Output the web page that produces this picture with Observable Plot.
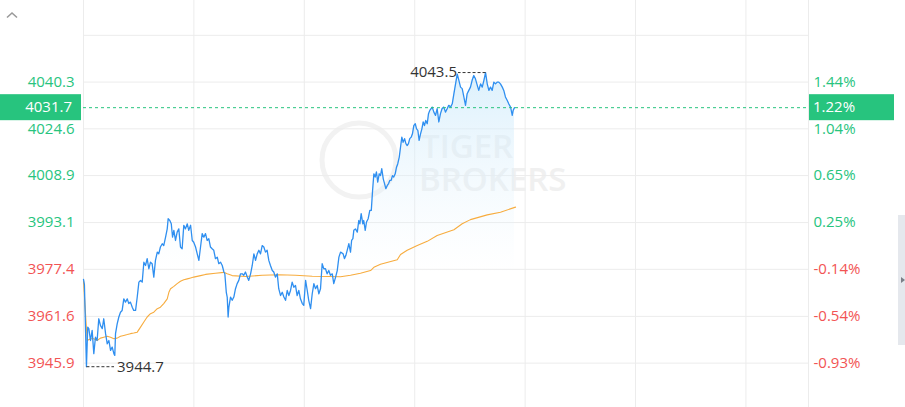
<!DOCTYPE html>
<html><head><meta charset="utf-8">
<script src="https://cdn.jsdelivr.net/npm/d3@7"></script>
<script src="https://cdn.jsdelivr.net/npm/@observablehq/plot@0.6"></script>
<style>
html,body{margin:0;padding:0;background:#fff;width:905px;height:407px;overflow:hidden;font-family:"Open Sans",sans-serif}
#wrap{position:relative;width:905px;height:407px}
#chart svg{display:block}
.chev{position:absolute;left:6px;top:11px}
.scroll{position:absolute;left:898px;top:215px;width:7px;height:130px;background:#e5e8ed}
.scroll:after{content:"";position:absolute;left:3px;top:62px;border-left:4px solid #7a7f87;border-top:3.5px solid transparent;border-bottom:3.5px solid transparent}
</style></head><body>
<div id="wrap"><div id="chart"></div>
<svg class="chev" width="12" height="8"><polyline points="1,6.5 6,2 11,6.5" fill="none" stroke="#9a9a9a" stroke-width="1.6"/></svg>
<div class="scroll"></div></div>
<script>
// minutes since 09:30 open
const minutes = [0.0,0.5,1.6,2.3,2.9,3.8,4.7,5.6,6.5,7.4,8.3,9.2,10.2,11.0,12.0,12.9,13.8,14.7,15.6,16.5,17.0,17.4,18.3,19.2,20.1,21.0,21.9,22.8,23.8,24.6,25.5,26.5,27.3,28.3,29.2,30.1,31.0,31.9,32.8,33.7,34.6,35.5,36.4,37.3,38.2,39.1,40.1,40.9,41.8,42.8,43.6,44.6,45.5,46.0,46.9,47.7,48.4,49.1,50.0,50.9,51.8,52.7,53.6,54.5,55.4,56.4,57.2,58.2,59.1,59.9,60.9,61.8,62.7,63.6,64.5,65.4,66.3,67.2,68.1,69.0,69.9,70.8,71.7,72.7,73.5,74.5,75.4,76.3,76.8,77.6,78.1,78.6,79.0,79.9,80.8,81.7,82.6,83.5,84.4,85.3,86.3,87.1,88.0,89.0,89.8,90.8,91.7,92.6,93.5,94.4,95.3,96.2,97.1,98.0,98.9,99.8,100.7,101.6,102.6,103.4,104.3,105.3,106.1,107.1,108.0,108.9,109.8,110.7,111.6,112.5,113.4,114.3,115.2,116.1,117.0,117.9,118.9,119.7,120.7,121.6,122.4,123.4,124.3,125.2,126.1,127.0,127.9,128.8,129.7,130.6,131.5,132.4,133.3,134.2,135.2,136.0,137.0,137.9,138.8,139.7,141.1,141.8,142.6,143.3,144.2,145.1,145.7,146.4,146.9,147.8,148.8,149.6,150.2,150.9,151.8,152.3,153.1,153.8,154.7,155.6,156.4,157.1,157.8,158.5,159.2,159.9,160.7,161.4,162.1,162.9,163.6,164.3,165.1,165.8,166.5,167.2,167.9,168.6,169.4,170.1,170.8,171.6,172.3,173.0,173.7,174.5,175.2,175.9,176.6,177.3,178.1,178.8,179.5,180.3,181.0,181.7,182.4,183.2,183.9,184.6,185.3,186.0,186.8,187.5,188.2,189.5,190.4,191.3,192.2,193.1,194.0,194.9,195.8,196.7,197.7,198.5,199.5,200.4,201.3,202.2,203.1,204.0,204.9,205.8,206.7,207.6,208.5,209.4,210.3,211.2,212.1,213.0,214.0,214.8,215.8,216.7,217.6,218.5,219.4,220.3,221.2,222.1,223.0,223.9,224.8,225.7,226.6,227.6,228.4,229.3,230.3,231.1,232.1,233.0,233.5,234.2];
const prices = [3974.0,3972.3,3944.7,3958.0,3957.5,3953.5,3956.9,3949.1,3954.6,3953.5,3960.8,3958.6,3957.5,3960.8,3955.8,3952.4,3953.5,3950.2,3951.3,3949.1,3948.5,3955.8,3959.1,3961.4,3963.0,3963.6,3967.5,3966.4,3967.5,3965.9,3966.4,3964.7,3963.6,3963.6,3968.1,3973.1,3973.7,3973.1,3979.8,3978.7,3981.0,3977.6,3979.8,3979.3,3974.8,3980.4,3983.2,3982.6,3984.9,3986.0,3985.4,3988.2,3991.0,3994.4,3993.8,3992.7,3988.2,3990.5,3987.1,3989.9,3991.0,3984.9,3984.3,3992.2,3991.0,3992.7,3990.5,3992.2,3987.1,3986.5,3984.9,3982.6,3980.4,3984.9,3989.4,3988.2,3989.4,3987.1,3987.7,3984.9,3984.3,3983.8,3981.0,3981.5,3979.3,3979.8,3978.7,3976.5,3975.9,3969.7,3968.1,3961.4,3964.7,3968.1,3967.0,3968.1,3970.9,3972.6,3973.7,3975.9,3975.9,3975.4,3976.5,3974.8,3973.7,3975.9,3978.7,3982.6,3980.4,3982.6,3983.8,3982.6,3985.4,3984.9,3983.2,3983.8,3980.4,3978.7,3977.0,3976.5,3974.8,3975.9,3970.9,3968.6,3969.7,3968.1,3967.0,3970.3,3968.6,3970.3,3973.1,3971.4,3972.0,3968.6,3970.3,3967.5,3965.9,3965.3,3973.7,3970.3,3967.0,3964.2,3969.2,3972.6,3970.9,3972.0,3969.2,3970.9,3979.3,3977.6,3977.6,3975.9,3977.0,3975.4,3975.9,3972.6,3974.8,3977.0,3981.5,3983.2,3982.6,3981.0,3982.1,3983.8,3986.0,3983.2,3987.1,3987.7,3990.5,3991.0,3989.9,3993.8,3992.7,3996.1,3992.7,3993.8,3990.5,3993.3,3994.4,3997.2,3997.2,4003.9,4009.5,4008.4,4010.1,4006.7,4009.5,4008.9,4011.2,4007.8,4006.2,4004.5,4005.6,4006.2,4007.3,4007.3,4008.9,4008.4,4009.5,4011.7,4012.9,4015.1,4018.5,4021.8,4020.1,4021.3,4019.6,4019.0,4019.6,4021.3,4021.8,4023.0,4025.7,4026.3,4024.6,4024.1,4020.7,4023.0,4024.6,4026.9,4025.7,4027.4,4026.3,4029.7,4030.8,4031.9,4030.2,4029.1,4031.4,4026.9,4029.7,4031.4,4031.9,4030.2,4031.4,4032.5,4031.9,4033.0,4036.4,4039.7,4043.0,4040.9,4038.6,4038.1,4035.3,4032.5,4036.4,4037.5,4038.6,4040.9,4042.5,4041.4,4039.2,4037.5,4039.7,4038.6,4040.9,4043.5,4039.7,4037.5,4038.6,4037.5,4040.3,4039.7,4040.3,4040.3,4039.7,4038.6,4037.5,4035.3,4034.1,4033.0,4031.9,4029.1,4030.8,4031.7];
// average price line
const avgMinutes = [0,2.0,3.8,5.6,7.4,9.2,11.0,12.9,14.7,16.5,18.3,20.1,21.9,23.8,25.5,27.3,29.2,31.0,32.8,34.6,36.4,38.2,40.1,41.8,43.6,45.5,46.4,47.3,49.1,50.9,52.7,54.5,56.4,58.2,59.9,63.6,66.3,71.7,76.3,78.1,80.8,88.0,97.1,106.1,115.2,124.3,133.3,139.7,145.1,150.5,156.0,157.8,161.4,170.5,172.3,175.9,181.4,186.8,192.2,201.3,205.8,210.3,219.4,226.6,234.8];
const avgPrices = [3973.5,3953.5,3954.1,3954.1,3953.5,3954.3,3954.6,3954.9,3954.6,3954.1,3954.3,3954.9,3955.2,3955.5,3955.8,3956.0,3956.3,3958.0,3959.7,3961.4,3962.5,3963.0,3964.2,3964.7,3965.9,3967.5,3969.7,3970.9,3971.7,3972.6,3973.4,3973.9,3974.2,3974.5,3974.8,3975.3,3975.7,3976.1,3976.4,3975.9,3975.3,3975.0,3975.4,3975.6,3975.4,3975.1,3975.0,3974.9,3975.4,3976.1,3977.0,3978.1,3979.1,3980.6,3982.4,3983.8,3985.4,3986.8,3988.8,3990.7,3992.7,3994.1,3995.7,3996.6,3998.3];
const prevClose = 3983.1;
const lastPrice = 4031.7;
const lastPct = "1.22%";
const priceTicks = [3945.9, 3961.6, 3977.4, 3993.1, 4008.9, 4024.6, 4040.3];
const pctTicks = ["-0.93%", "-0.54%", "-0.14%", "0.25%", "0.65%", "1.04%", "1.44%"];
const topGrid = 4056.0;
const hourTicks = [0, 60, 120, 180, 240, 300, 360];
const sessionEnd = 394;
const yDomain = [3931.0, 4067.7];
const labelGap = 15; // minutes of dashed leader for high/low labels

const green = "#27c47e", red = "#f25454", blue = "#2f8ff0", orange = "#f7ac3e", grid = "#ececec";
const series = minutes.map((m, i) => ({m, p: prices[i]}));
const avg = avgMinutes.map((m, i) => ({m, p: avgPrices[i]}));
const ticks = priceTicks.map((v, i) => ({v, pct: pctTicks[i], c: v >= prevClose ? green : red}));
const iMax = d3.maxIndex(prices), iMin = d3.minIndex(prices);
const hi = {m: minutes[iMax], p: prices[iMax]};
const lo = {m: minutes[iMin], p: prices[iMin]};

const chart = Plot.plot({
  width: 905, height: 407,
  marginLeft: 83, marginRight: 97, marginTop: 0, marginBottom: 0,
  x: {domain: [0, sessionEnd], axis: null},
  y: {domain: yDomain, axis: null},
  color: {type: "identity"},
  style: {fontFamily: "'Open Sans', sans-serif", fontSize: "15px", background: "transparent"},
  marks: [
    Plot.ruleY([...priceTicks, topGrid], {stroke: grid}),
    Plot.ruleX([...hourTicks, sessionEnd], {stroke: grid}),
    Plot.areaY(series, {x: "m", y1: yDomain[0], y2: "p", fill: "url(#areaGrad)"}),
    Plot.line(avg, {x: "m", y: "p", stroke: orange, strokeWidth: 1.1}),
    Plot.line(series, {x: "m", y: "p", stroke: blue, strokeWidth: 1.3}),
    Plot.ruleY([lastPrice], {stroke: green, strokeDasharray: "3,3", strokeWidth: 1}),
    Plot.text(ticks, {y: "v", text: d => d.v.toFixed(1), frameAnchor: "left", dx: -9, textAnchor: "end", fill: "c", fontSize: 15}),
    Plot.text(ticks, {y: "v", text: "pct", frameAnchor: "right", dx: 5, textAnchor: "start", fill: "c", fontSize: 15}),
    Plot.link([lo], {x1: "m", x2: d => d.m + labelGap, y1: "p", y2: "p", stroke: "#333", strokeDasharray: "3,2", strokeWidth: 1}),
    Plot.text([lo], {x: d => d.m + labelGap, y: "p", text: d => d.p.toFixed(1), dx: 3, textAnchor: "start", fill: "#333", fontSize: 15}),
    Plot.link([hi], {x1: "m", x2: d => d.m - labelGap, y1: "p", y2: "p", stroke: "#333", strokeDasharray: "3,2", strokeWidth: 1}),
    Plot.text([hi], {x: d => d.m - labelGap, y: "p", text: d => d.p.toFixed(1), dx: -1, textAnchor: "end", fill: "#333", fontSize: 15})
  ]
});
document.getElementById("chart").appendChild(chart);

const svg = d3.select(chart);
// gradient for the area
const defs = svg.insert("defs", ":first-child");
const lg = defs.append("linearGradient").attr("id", "areaGrad").attr("x1", 0).attr("y1", 0).attr("x2", 0).attr("y2", 1);
lg.append("stop").attr("offset", 0).attr("stop-color", "#cdeafb").attr("stop-opacity", 0.7);
lg.append("stop").attr("offset", 0.6).attr("stop-color", "#e8f5fd").attr("stop-opacity", 0);

// watermark behind marks
const wm = svg.insert("g", "g").attr("text-anchor", "start");
wm.append("circle").attr("cx", 359).attr("cy", 160).attr("r", 37).attr("fill", "none").attr("stroke", "#f2f2f2").attr("stroke-width", 5);
wm.append("text").attr("x", 421).attr("y", 158).attr("fill", "#f0f0f0").attr("font-size", 33).attr("font-weight", 600).attr("font-family", "'Open Sans', sans-serif").text("TIGER");
wm.append("text").attr("x", 419).attr("y", 191).attr("fill", "#f0f0f0").attr("font-size", 33).attr("font-weight", 600).attr("font-family", "'Open Sans', sans-serif").text("BROKERS");

// current price tags
const yS = chart.scale("y");
const yc = yS.apply(lastPrice);
const tags = svg.append("g");
tags.append("rect").attr("x", 0).attr("y", yc - 13).attr("width", 81).attr("height", 26).attr("fill", green);
tags.append("text").attr("x", 72).attr("y", yc).attr("dy", "0.32em").attr("text-anchor", "end").attr("fill", "#fff").attr("font-size", 15).text(lastPrice.toFixed(1));
tags.append("rect").attr("x", 809).attr("y", yc - 13).attr("width", 85).attr("height", 26).attr("fill", green);
tags.append("text").attr("x", 813).attr("y", yc).attr("dy", "0.32em").attr("text-anchor", "start").attr("fill", "#fff").attr("font-size", 15).text(lastPct);
</script>
</body></html>
